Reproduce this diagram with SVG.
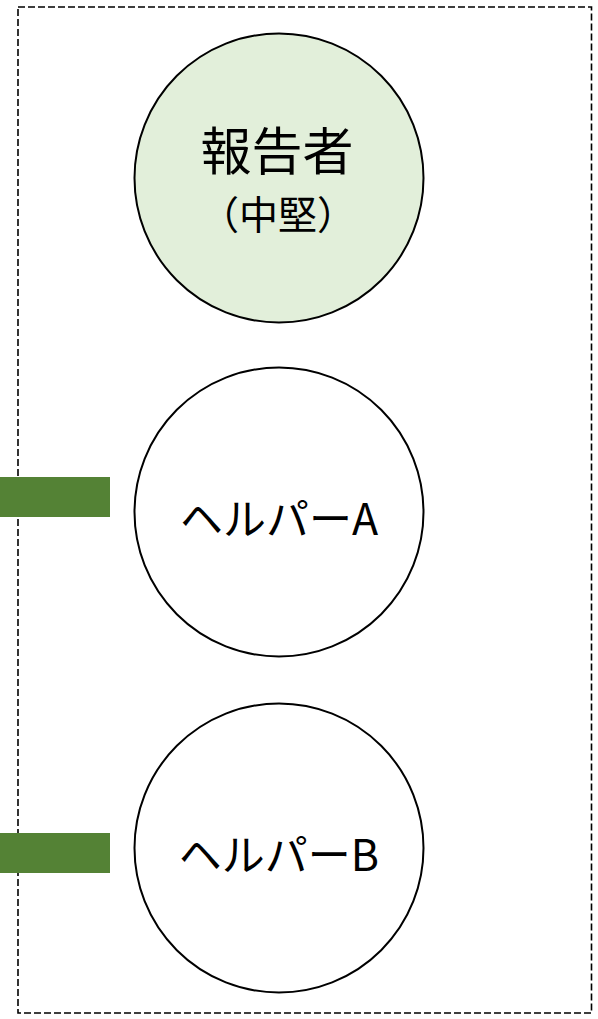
<svg xmlns="http://www.w3.org/2000/svg" width="598" height="1019" viewBox="0 0 598 1019">
<style>
.frame{fill:none;stroke:#000;stroke-width:1.6;stroke-dasharray:7 3}
.node{stroke:#000;stroke-width:2}
.bar{fill:#548235}
.t{font-family:"Noto Sans CJK JP","Noto Sans",sans-serif;fill:#000;text-anchor:middle}
</style>
<rect class="frame" x="18" y="7" width="573.5" height="1006"/>
<g id="connectors">
<rect class="bar" x="0" y="477" width="110" height="40"/>
<rect class="bar" x="0" y="833" width="110" height="40"/>
</g>
<g id="reporter">
<circle class="node" cx="279" cy="178" r="144.5" fill="#E2EFDA"/>
<text class="t" x="277" y="170" font-size="51">報告者</text>
<text class="t" x="278" y="229" font-size="39">（中堅）</text>
</g>
<g id="helperA">
<circle class="node" cx="279" cy="512" r="144.5" fill="#FFFFFF"/>
<text class="t" x="279" y="535" font-size="43">ヘルパーA</text>
</g>
<g id="helperB">
<circle class="node" cx="279" cy="848" r="144.5" fill="#FFFFFF"/>
<text class="t" x="279" y="871" font-size="43">ヘルパーB</text>
</g>
</svg>
